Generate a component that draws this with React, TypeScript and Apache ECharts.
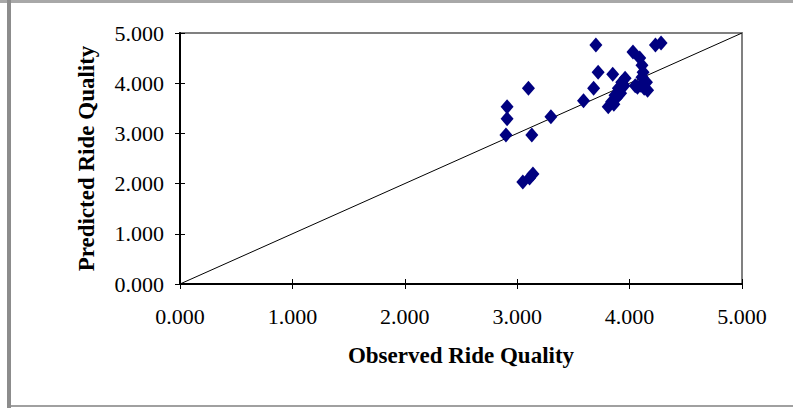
import React, { useEffect, useRef } from "react";
import * as echarts from "echarts";

const observed = [2.91, 2.91, 2.9, 3.1, 3.13, 3.05, 3.11, 3.14, 3.3, 3.59, 3.7, 3.72, 3.68, 3.85, 4.03, 4.23, 4.28, 4.09, 4.11, 4.12, 4.11, 4.15, 4.16, 4.07, 3.96, 3.93, 3.9, 3.87, 3.84, 3.81, 3.86, 3.92, 4.05, 4.1, 4.13, 3.88, 3.95];
const predicted = [3.53, 3.29, 2.97, 3.9, 2.97, 2.03, 2.11, 2.19, 3.33, 3.65, 4.76, 4.22, 3.9, 4.18, 4.62, 4.76, 4.8, 4.5, 4.36, 4.22, 4.12, 4.02, 3.86, 3.92, 4.1, 4.02, 3.9, 3.76, 3.63, 3.53, 3.58, 3.8, 3.95, 3.96, 3.9, 3.7, 3.95];
const lineX = [0, 5];
const lineY = [0, 5];
const xTitle = "Observed Ride Quality";
const yTitle = "Predicted Ride Quality";

const FONT = "'Liberation Serif', 'Times New Roman', serif";

export default function App() {
  const ref = useRef<HTMLDivElement>(null);
  useEffect(() => {
    document.body.style.margin = "0";
    const chart = echarts.init(ref.current!, null, { renderer: "svg" });
    const axisCommon = {
      type: "value" as const,
      min: 0,
      max: 5,
      interval: 1,
      splitLine: { show: false },
    };
    chart.setOption({
      animation: false,
      backgroundColor: "#fff",
      grid: {
        left: 180,
        right: 51,
        top: 33,
        bottom: 124,
        show: true,
        borderColor: "#808080",
        borderWidth: 2,
        backgroundColor: "transparent",
      },
      xAxis: [
        {
          ...axisCommon,
          name: xTitle,
          nameLocation: "middle",
          nameGap: 60,
          nameTextStyle: { fontFamily: FONT, fontWeight: "bold", fontSize: 23, color: "#000" },
          axisLine: { show: true, lineStyle: { color: "#000", width: 2 } },
          axisTick: { show: true, inside: false, length: 5, lineStyle: { color: "#000" } },
          axisLabel: { fontFamily: FONT, fontSize: 22, color: "#000", margin: 21, formatter: (v: number) => v.toFixed(3) },
        },
        {
          ...axisCommon,
          position: "bottom",
          axisLine: { show: false },
          axisTick: { show: true, inside: true, length: 5, lineStyle: { color: "#000" } },
          axisLabel: { show: false },
        },
      ],
      yAxis: [
        {
          ...axisCommon,
          name: yTitle,
          nameLocation: "middle",
          nameGap: 82,
          nameTextStyle: { fontFamily: FONT, fontWeight: "bold", fontSize: 23, color: "#000" },
          axisLine: { show: true, lineStyle: { color: "#000", width: 2 } },
          axisTick: { show: true, inside: false, length: 5, lineStyle: { color: "#000" } },
          axisLabel: { fontFamily: FONT, fontSize: 22, color: "#000", margin: 16, formatter: (v: number) => v.toFixed(3) },
        },
        {
          ...axisCommon,
          position: "left",
          axisLine: { show: false },
          axisTick: { show: true, inside: true, length: 5, lineStyle: { color: "#000" } },
          axisLabel: { show: false },
        },
      ],
      series: [
        {
          type: "line",
          data: lineX.map((x, i) => [x, lineY[i]]),
          showSymbol: false,
          symbol: "none",
          lineStyle: { color: "#000", width: 1 },
          z: 1,
        },
        {
          type: "scatter",
          data: observed.map((x, i) => [x, predicted[i]]),
          symbol: "diamond",
          symbolSize: [13, 15],
          itemStyle: { color: "#000080", opacity: 1 },
          z: 3,
        },
      ],
      graphic: [
        { type: "rect", shape: { x: 0, y: 0, width: 793, height: 3 }, style: { fill: "#a8a8a8" }, silent: true },
        { type: "rect", shape: { x: 7, y: 0, width: 4, height: 408 }, style: { fill: "#8c8c8c" }, silent: true },
        { type: "rect", shape: { x: 11, y: 405, width: 782, height: 2 }, style: { fill: "#a0a0a0" }, silent: true },
      ],
    });
    return () => chart.dispose();
  }, []);
  return <div ref={ref} style={{ position: "fixed", left: 0, top: 0, width: 793, height: 408 }} />;
}
